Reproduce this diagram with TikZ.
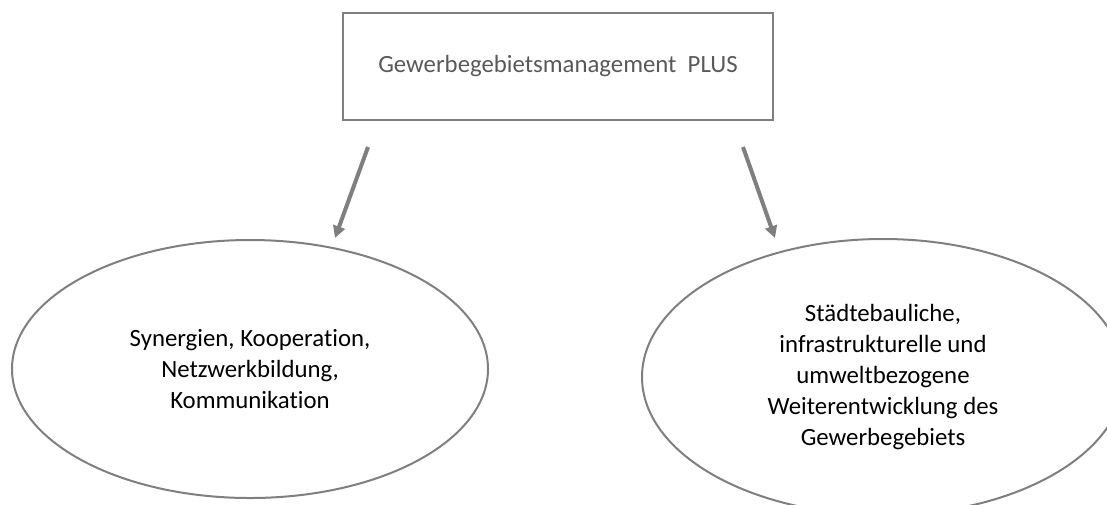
\documentclass[tikz,border=0pt]{standalone}
\usepackage{fontspec}
\setmainfont{Carlito}[Ligatures=CommonOff]
\definecolor{gmLine}{HTML}{7F7F7F}
\definecolor{gmText}{HTML}{595959}
\usetikzlibrary{arrows.meta,shapes.geometric}

\tikzset{
  kasten/.style={draw=gmLine, line width=2pt, minimum width=430pt, minimum height=107pt,
    font=\fontsize{24.8}{31}\selectfont, text=gmText},
  oval/.style={ellipse, draw=gmLine, line width=2pt, inner sep=0pt, align=center,
    font=\fontsize{24.8}{30.8}\selectfont, text=black},
  pfeil/.style={gmLine, line width=4pt, -{Triangle[length=12pt,width=12pt]}}
}

\begin{document}
\begin{tikzpicture}[x=1pt, y=-1pt]
  \useasboundingbox (0,0) rectangle (1107,504);
  % Kopf
  \node[kasten] (gm) at (558,66.5) {Gewerbegebietsmanagement\ \ PLUS};
  % die beiden Handlungsfelder
  \node[oval, minimum width=476pt, minimum height=258pt] (syn) at (250,369)
    {Synergien, Kooperation,\\Netzwerkbildung,\\Kommunikation};
  \node[oval, minimum width=482pt, minimum height=276pt] (stadt) at (883,377)
    {Städtebauliche,\\infrastrukturelle und\\umweltbezogene\\Weiterentwicklung des\\Gewerbegebiets};
  % Pfeile
  \coordinate (gmL) at (368,147);
  \coordinate (synTop) at (335,238);
  \coordinate (gmR) at (743,147);
  \coordinate (stadtTop) at (775,238);
  \draw[pfeil] (gmL) -- (synTop);
  \draw[pfeil] (gmR) -- (stadtTop);
\end{tikzpicture}
\end{document}
